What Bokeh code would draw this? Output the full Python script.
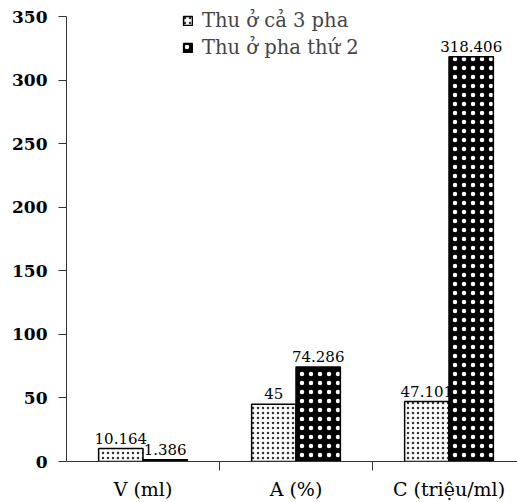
from bokeh.plotting import figure
from bokeh.models import Range1d, FixedTicker, ColumnDataSource, Legend, LegendItem
from bokeh.core.properties import value
from bokeh.embed import file_html
from bokeh.resources import INLINE

categories = ["V (ml)", "A (%)", "C (triệu/ml)"]
series_names = ["Thu ở cả 3 pha", "Thu ở pha thứ 2"]
all_phases = [10.164, 45, 47.101]
phase_two = [1.386, 74.286, 318.406]
y_ticks = [0, 50, 100, 150, 200, 250, 300, 350]

FONT = "DejaVu Serif"
BAR_W = 0.29

centers = [i + 0.5 for i in range(len(categories))]
x1 = [c - BAR_W / 2 for c in centers]
x2 = [c + BAR_W / 2 for c in centers]

src1 = ColumnDataSource(dict(x=x1, top=all_phases, lab=[f"{v:g}" for v in all_phases]))
src2 = ColumnDataSource(dict(x=x2, top=phase_two, lab=[f"{v:g}" for v in phase_two]))

p = figure(width=517, height=502, output_backend="svg", toolbar_location=None,
           x_range=Range1d(0, 451 / 153), y_range=Range1d(0, 350 * 457 / 445),
           min_border_left=66, min_border_right=0, min_border_top=4, min_border_bottom=41)
p.outline_line_color = None
p.xgrid.grid_line_color = None
p.ygrid.grid_line_color = None

r1 = p.vbar(x="x", top="top", width=BAR_W, source=src1, fill_color="white",
            line_color="black", line_width=1.5, hatch_pattern="dot",
            hatch_color="#333333", hatch_scale=5, hatch_weight=0.7)
r2 = p.vbar(x="x", top="top", width=BAR_W, source=src2, fill_color="black",
            line_color="black", line_width=1.5, hatch_pattern="dot",
            hatch_color="white", hatch_scale=9, hatch_weight=0.7)

for src in (src1, src2):
    p.text(x="x", y="top", text="lab", source=src, text_align="center",
           text_baseline="bottom", y_offset=-5, text_font=value(FONT),
           text_font_size="15px", text_color="black")

# y axis
p.yaxis.ticker = FixedTicker(ticks=y_ticks)
p.yaxis.bounds = (0, 350)
p.yaxis.axis_line_color = "#333333"
p.yaxis.major_tick_out = 8
p.yaxis.major_tick_in = 0
p.yaxis.major_tick_line_color = "#333333"
p.yaxis.minor_tick_line_color = None
p.yaxis.major_label_standoff = 11
p.yaxis.major_label_text_font = FONT
p.yaxis.major_label_text_font_style = "bold"
p.yaxis.major_label_text_font_size = "17px"
p.yaxis.major_label_text_color = "black"

# x axis
p.xaxis.ticker = FixedTicker(ticks=centers, minor_ticks=[1, 2])
p.xaxis.major_label_overrides = {c: name for c, name in zip(centers, categories)}
p.xaxis.axis_line_color = "#333333"
p.xaxis.major_tick_line_color = None
p.xaxis.major_tick_out = 0
p.xaxis.major_tick_in = 0
p.xaxis.minor_tick_out = 9
p.xaxis.minor_tick_in = 0
p.xaxis.minor_tick_line_color = "#333333"
p.xaxis.major_label_standoff = 7
p.xaxis.major_label_text_font = FONT
p.xaxis.major_label_text_font_size = "19px"
p.xaxis.major_label_text_color = "black"

legend = Legend(items=[LegendItem(label=series_names[0], renderers=[r1]),
                       LegendItem(label=series_names[1], renderers=[r2])],
                location=(116, 402), orientation="vertical",
                background_fill_alpha=0, border_line_color=None,
                glyph_width=11, glyph_height=11, label_text_font=FONT,
                label_text_font_size="19.5px", spacing=4, padding=4, margin=0,
                label_standoff=9)
p.add_layout(legend)

open("out.html", "w").write(file_html(p, INLINE))
